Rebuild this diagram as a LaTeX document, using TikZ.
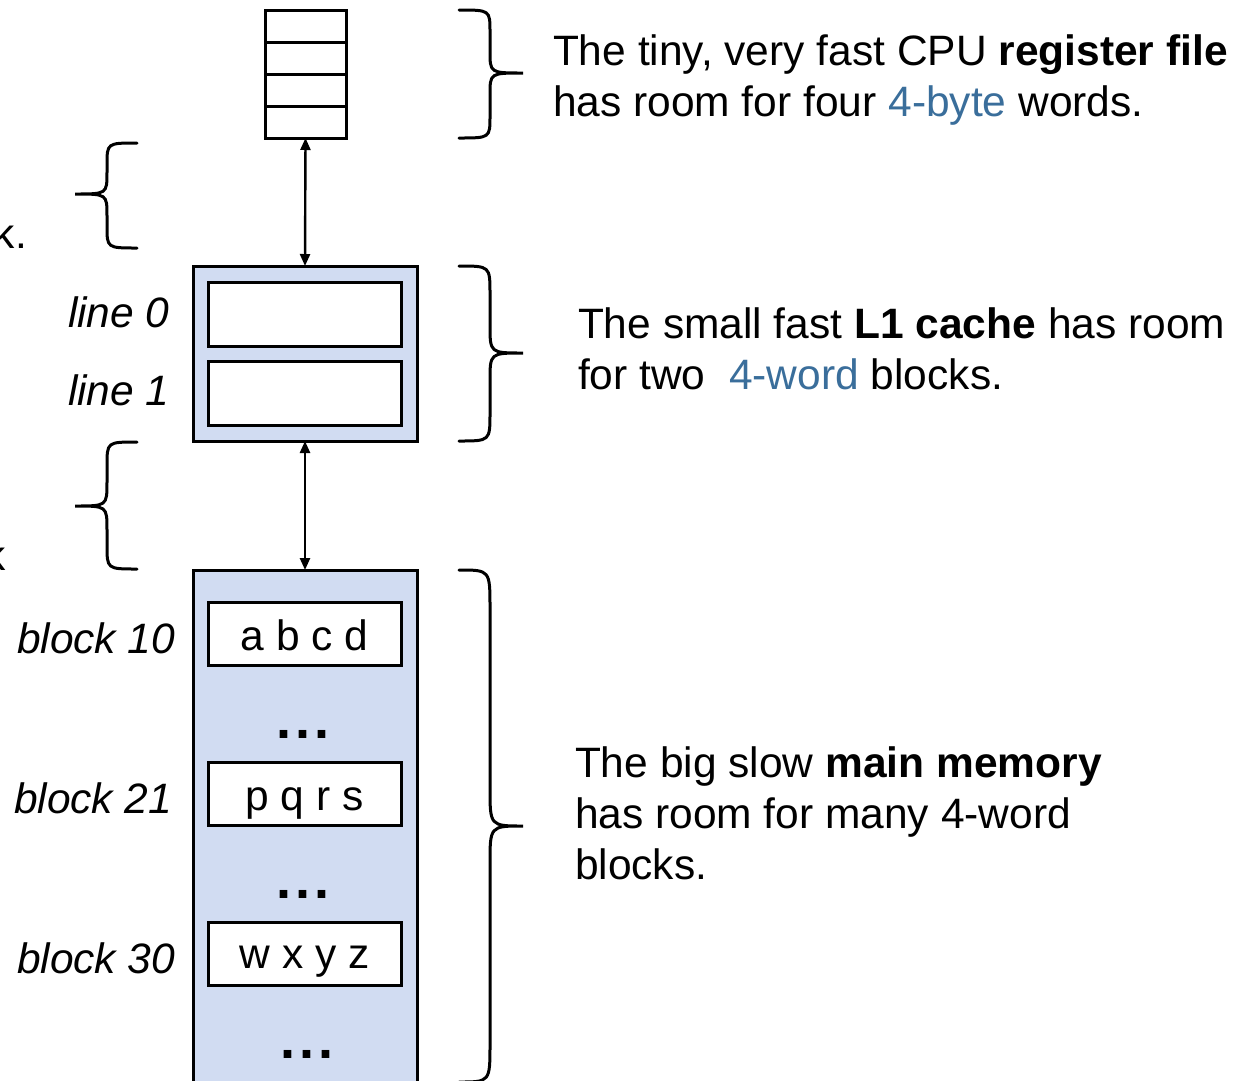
\documentclass[tikz,border=0pt]{standalone}
\usepackage{fontspec}
\setmainfont{Liberation Sans}
\usetikzlibrary{arrows.meta}
\definecolor{memfill}{RGB}{209,220,242}
\definecolor{hilite}{RGB}{58,110,155}

% curly brace opening to the left, tip on the right
% #1 open x, #2 top y, #3 bottom y, #4 tip y, #5 curve radius
\newcommand\bracetoright[5]{%
  \draw[bracestyle] (#1,#2) .. controls (#1+31,#2) .. (#1+31,#2+#5)
    -- (#1+31,#4-#5) .. controls (#1+31,#4) .. (#1+64,#4)
    .. controls (#1+31,#4) .. (#1+31,#4+#5)
    -- (#1+31,#3-#5) .. controls (#1+31,#3) .. (#1,#3);}
% curly brace opening to the right, tip on the left
\newcommand\bracetoleft[5]{%
  \draw[bracestyle] (#1,#2) .. controls (#1-30,#2) .. (#1-30,#2+#5)
    -- (#1-30,#4-#5) .. controls (#1-30,#4) .. (#1-62,#4)
    .. controls (#1-30,#4) .. (#1-30,#4+#5)
    -- (#1-30,#3-#5) .. controls (#1-30,#3) .. (#1,#3);}
% spaced ellipsis of square dots
\newcommand\sqdots{.\kern4pt.\kern4pt.}

\begin{document}
\begin{tikzpicture}[x=1pt,y=-1pt,
  every node/.style={inner sep=0pt, outer sep=0pt},
  txt/.style={font=\fontsize{42.5}{51}\selectfont},
  lbl/.style={txt, font=\fontsize{42.5}{51}\selectfont\itshape},
  dots/.style={font=\fontsize{54}{54}\selectfont\bfseries},
  regbox/.style={draw, line width=3pt, fill=white},
  cachebox/.style={draw, line width=3pt, fill=memfill},
  slot/.style={draw, line width=3pt, fill=white, minimum width=193, minimum height=64},
  divider/.style={line width=3pt},
  bracestyle/.style={line width=3pt, line cap=round},
  link/.style={line width=2.4pt, {Triangle[length=12pt,width=10pt]}-{Triangle[length=12pt,width=10pt]}}]

\useasboundingbox (0,0) rectangle (1245,1080);
\fill[white] (0,0) rectangle (1245,1080);

% register file
\node[regbox, minimum width=81, minimum height=128] (reg) at (305.5,74) {};
\draw[divider] (reg.west) -- (reg.east);
\draw[divider] ([yshift=32pt]reg.west) -- ([yshift=32pt]reg.east);
\draw[divider] ([yshift=-32pt]reg.west) -- ([yshift=-32pt]reg.east);

% L1 cache
\node[cachebox, minimum width=224, minimum height=175] (l1) at (305,353.5) {};
\node[slot] (line0) at (304.5,314) {};
\node[slot] (line1) at (304.5,393) {};
\node[lbl, anchor=base west] (lab0) at (68,327) {line 0};
\node[lbl, anchor=base west] (lab1) at (68,405) {line 1};

% main memory
\node[cachebox, minimum width=224, minimum height=540] (mem) at (305,840) {};
\node[slot, minimum height=63] (b10) at (304.5,633.5) {};
\node[slot, minimum height=63] (b21) at (304.5,793.5) {};
\node[slot, minimum height=63] (b30) at (304.5,953.5) {};
\node[txt, anchor=base] (w10) at (304.5,650) {a b c d};
\node[txt, anchor=base] (w21) at (304.5,810) {p q r s};
\node[txt, anchor=base] (w30) at (304.5,968) {w x y z};
\node[dots, anchor=base] (d1) at (303,738) {\sqdots};
\node[dots, anchor=base] (d2) at (303,898) {\sqdots};
\node[dots, anchor=base] (d3) at (307,1058) {\sqdots};
\node[lbl, anchor=base west] (lab10) at (17,653) {block 10};
\node[lbl, anchor=base west] (lab21) at (14,813) {block 21};
\node[lbl, anchor=base west] (lab30) at (17,973) {block 30};

% transfers between levels
\draw[link] (reg.south) -- (l1.north);
\draw[link] (l1.south) -- (mem.north);

% braces
\bracetoright{459}{10}{138}{73}{22}
\bracetoright{459}{266}{441}{353}{28}
\bracetoright{459}{570}{1082}{826}{38}
\bracetoleft{137}{143}{248}{194}{22}
\bracetoleft{137}{442}{569}{506}{24}

% left-hand notes
\node[txt, anchor=base east] (k1) at (27,248) {k.};
\node[txt, anchor=base east] (k2) at (6,570) {k};

% descriptions
\node[txt, anchor=base west] (regtxt) at (553,65) {\parbox[t]{720pt}{\raggedright
  The tiny, very fast CPU \textbf{register file}\\
  has room for four \textcolor{hilite}{4-byte} words.}};
\node[txt, anchor=base west] (l1txt) at (578,338) {\parbox[t]{720pt}{\raggedright
  The small fast \textbf{L1 cache} has room\\
  for two\ \ \textcolor{hilite}{4-word} blocks.}};
\node[txt, anchor=base west] (memtxt) at (575,777) {\parbox[t]{720pt}{\raggedright
  The big slow \textbf{main memory}\\
  has room for many 4-word\\
  blocks.}};
\end{tikzpicture}
\end{document}
